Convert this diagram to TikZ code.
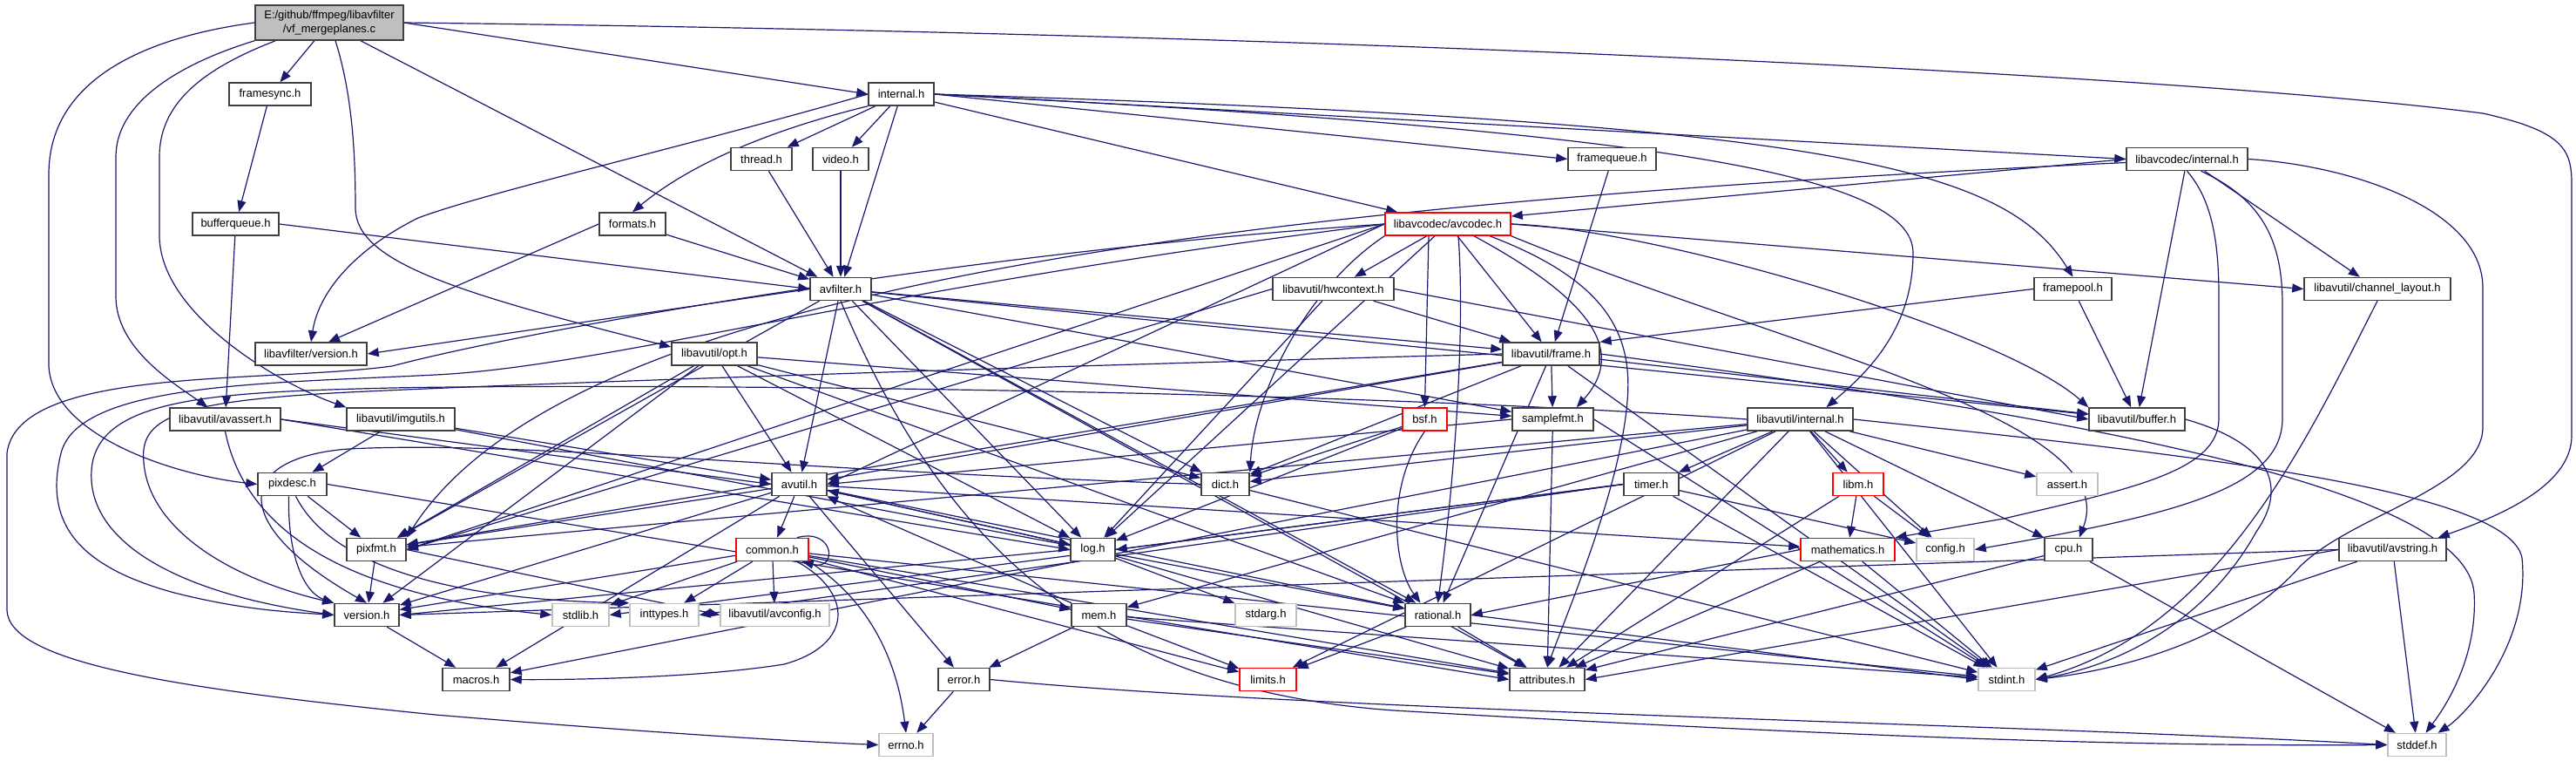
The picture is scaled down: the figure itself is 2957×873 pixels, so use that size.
\documentclass[tikz,border=0pt]{standalone}
\usepackage{fontspec}
\setmainfont{Liberation Sans}
\usetikzlibrary{arrows.meta,backgrounds}
\definecolor{edgec}{HTML}{191970}
\definecolor{rootfill}{HTML}{BFBFBF}
\definecolor{bdr}{HTML}{404040}
\definecolor{sysb}{HTML}{BFBFBF}
\definecolor{trunc}{HTML}{FF0000}
\tikzset{
 hbox/.style={draw=bdr, line width=0.75pt, fill=white, inner sep=0pt, minimum height=13pt, font=\fontsize{6.5}{7.8}\selectfont, text=black},
 redbox/.style={hbox, draw=trunc},
 sysbox/.style={hbox, draw=sysb},
 e/.style={draw=edgec, line width=0.6pt, -{Triangle[length=6.5pt,width=5pt]}},
}
\begin{document}
\begin{tikzpicture}[x=0.5pt,y=-0.5pt]
\useasboundingbox (0,0) rectangle (2957,873);
% nodes
\node[hbox, fill=rootfill, minimum width=85pt, minimum height=20pt, align=center] (root) at (378,26) {E:/github/ffmpeg/libavfilter\\/vf\_mergeplanes.c};
\node[hbox, minimum width=47pt] (framesync) at (310,108) {framesync.h};
\node[hbox, minimum width=49.5pt] (bufferqueue) at (270.5,257) {bufferqueue.h};
\node[hbox, minimum width=64pt] (lavfversion) at (357,406) {libavfilter/version.h};
\node[hbox, minimum width=37.5pt] (internal) at (1034.5,108) {internal.h};
\node[hbox, minimum width=35pt] (thread) at (874,182.5) {thread.h};
\node[hbox, minimum width=32pt] (video) at (965,182.5) {video.h};
\node[hbox, minimum width=38pt] (formats) at (726,257) {formats.h};
\node[hbox, minimum width=35pt] (avfilter) at (965,331.5) {avfilter.h};
\node[hbox, minimum width=49pt] (opt) at (820,406) {libavutil/opt.h};
\node[hbox, minimum width=50.5pt] (framequeue) at (1850.5,182.5) {framequeue.h};
\node[redbox, minimum width=72pt] (avcodec) at (1662,257) {libavcodec/avcodec.h};
\node[hbox, minimum width=69.5pt] (hwcontext) at (1530.5,331.5) {libavutil/hwcontext.h};
\node[hbox, minimum width=55.5pt] (frame) at (1780.5,406) {libavutil/frame.h};
\node[hbox, minimum width=69.5pt] (lavcinternal) at (2510.5,182.5) {libavcodec/internal.h};
\node[hbox, minimum width=44.5pt] (framepool) at (2379.5,331.5) {framepool.h};
\node[hbox, minimum width=84pt] (chlayout) at (2729,331.5) {libavutil/channel\_layout.h};
\node[hbox, minimum width=63.5pt] (avassert) at (258.5,481) {libavutil/avassert.h};
\node[hbox, minimum width=62pt] (imgutils) at (460,481) {libavutil/imgutils.h};
\node[hbox, minimum width=39.5pt] (pixdesc) at (335.5,555.5) {pixdesc.h};
\node[hbox, minimum width=34pt] (pixfmt) at (432,630.5) {pixfmt.h};
\node[hbox, minimum width=37pt] (version) at (421,705.5) {version.h};
\node[hbox, minimum width=31.5pt] (avutil) at (917.5,555.5) {avutil.h};
\node[redbox, minimum width=41.5pt] (common) at (886.5,630.5) {common.h};
\node[sysbox, minimum width=32.5pt] (stdlib) at (666.5,705.5) {stdlib.h};
\node[sysbox, minimum width=39.5pt] (inttypes) at (762.5,705.5) {inttypes.h};
\node[sysbox, minimum width=62.5pt] (avconfig) at (889.5,705.5) {libavutil/avconfig.h};
\node[hbox, minimum width=38.5pt] (macros) at (546.5,779.5) {macros.h};
\node[hbox, minimum width=27.5pt] (dict) at (1406.5,555.5) {dict.h};
\node[hbox, minimum width=25.5pt] (log) at (1254.5,630.5) {log.h};
\node[hbox, minimum width=31.5pt] (mem) at (1261.5,705.5) {mem.h};
\node[sysbox, minimum width=35pt] (stdarg) at (1453,705.5) {stdarg.h};
\node[hbox, minimum width=29.5pt] (error) at (1106.5,779.5) {error.h};
\node[sysbox, minimum width=31pt] (errno) at (1040,854.5) {errno.h};
\node[redbox, minimum width=32.5pt] (limits) at (1455.5,779.5) {limits.h};
\node[redbox, minimum width=25.5pt] (bsf) at (1635.5,481) {bsf.h};
\node[hbox, minimum width=46.5pt] (samplefmt) at (1782.5,481) {samplefmt.h};
\node[hbox, minimum width=31.5pt] (timer) at (1895.5,555.5) {timer.h};
\node[hbox, minimum width=37.5pt] (rational) at (1650.5,705.5) {rational.h};
\node[hbox, minimum width=43pt] (attributes) at (1776,779.5) {attributes.h};
\node[hbox, minimum width=60.5pt] (lavuinternal) at (2066.5,481) {libavutil/internal.h};
\node[hbox, minimum width=55pt] (buffer) at (2453,481) {libavutil/buffer.h};
\node[redbox, minimum width=29pt] (libm) at (2133,555.5) {libm.h};
\node[sysbox, minimum width=35pt] (assert) at (2373,555.5) {assert.h};
\node[redbox, minimum width=54pt] (mathematics) at (2121,630.5) {mathematics.h};
\node[sysbox, minimum width=33pt] (config) at (2233,630.5) {config.h};
\node[hbox, minimum width=27.5pt] (cpu) at (2374.5,630.5) {cpu.h};
\node[sysbox, minimum width=32.5pt] (stdint) at (2303.5,779.5) {stdint.h};
\node[hbox, minimum width=61.5pt] (avstring) at (2746.5,630.5) {libavutil/avstring.h};
\node[sysbox, minimum width=33.5pt] (stddef) at (2774.5,854.5) {stddef.h};

\begin{pgfonlayer}{background}
\fill[white] (0,0) rectangle (2957,873);
% root
\draw[e] (root) -- (framesync);
\draw[e] ([xshift=18pt]root.south) -- (avfilter);
\draw[e] (root.east) -- (internal.west);
\draw[e] (root.west) .. controls (150,45) and (56,100) .. (56,200) -- (56,420) .. controls (60,500) and (200,545) .. (pixdesc.west);
\draw[e] (root.south west) .. controls (200,75) and (133,120) .. (133,180) -- (133,340) .. controls (133,400) and (200,440) .. ([xshift=-10pt]avassert.north);
\draw[e] ([xshift=12pt]root.south west) .. controls (230,80) and (183,120) .. (183,180) -- (183,270) .. controls (183,360) and (320,440) .. (imgutils.north west);
\draw[e] ([xshift=3.5pt]root.south) .. controls (405,110) and (408,180) .. (408,240) .. controls (410,300) and (520,335) .. ([yshift=4pt]opt.west);
\draw[e] (root.east) .. controls (1500,38) and (2500,85) .. (2850,130) .. controls (2940,150) and (2952,170) .. (2952,210) -- (2952,500) .. controls (2952,560) and (2860,595) .. ([xshift=-5pt]avstring.north east);
% framesync, bufferqueue
\draw[e] (framesync) -- (bufferqueue);
\draw[e] (bufferqueue.east) -- (avfilter.west);
\draw[e] (bufferqueue) -- (avassert);
% internal
\draw[e] (internal) -- (thread);
\draw[e] (internal) -- (video);
\draw[e] (internal) -- (avfilter);
\draw[e] (internal.south west) .. controls (880,150) and (790,190) .. (formats.north);
\draw[e] (internal.west) .. controls (800,165) and (560,220) .. (480,250) .. controls (400,290) and (365,340) .. (lavfversion.north);
\draw[e] (internal) -- (avcodec);
\draw[e] (internal.east) -- (framequeue.west);
\draw[e] (internal.east) -- (lavcinternal.west);
\draw[e] (internal.east) .. controls (2100,140) and (2300,190) .. (framepool.north);
\draw[e] (internal.east) .. controls (1900,150) and (2196,200) .. (2196,290) .. controls (2196,380) and (2140,430) .. ([xshift=15pt]lavuinternal.north);
\draw[e] (thread) -- (avfilter);
\draw[e] (video) -- (avfilter);
\draw[e] (formats) -- (avfilter);
\draw[e] (formats.west) -- ([xshift=10pt]lavfversion.north);
\draw[e] (framequeue) -- (frame);
\draw[e] (framepool.west) -- (frame.north east);
\draw[e] (framepool) -- (buffer);
% lavcodec internal
\draw[e] (lavcinternal) -- (buffer);
\draw[e] (lavcinternal) -- (chlayout);
\draw[e] (lavcinternal.west) -- ([yshift=4.5pt]avcodec.east);
\draw[e] ([yshift=-2pt]lavcinternal.west) .. controls (1400,235) and (650,330) .. (pixfmt.north east);
\draw[e] (lavcinternal.south) .. controls (2540,230) and (2547,280) .. (2547,340) -- (2547,480) .. controls (2547,540) and (2450,560) .. (2300,595) -- (mathematics.north east);
\draw[e] ([xshift=8pt]lavcinternal.south) .. controls (2600,230) and (2620,280) .. (2620,350) -- (2620,480) .. controls (2620,560) and (2500,590) .. (config.east);
\draw[e] (lavcinternal.east) .. controls (2700,190) and (2850,240) .. (2850,330) -- (2850,490) .. controls (2850,560) and (2700,590) .. (2640,650) .. controls (2560,740) and (2420,770) .. (stdint.east);
\draw[e] (chlayout.south) .. controls (2650,500) and (2550,720) .. (stdint.east);
\draw[e] (buffer.east) .. controls (2610,510) and (2625,560) .. (2590,610) .. controls (2540,700) and (2450,760) .. (stdint.east);
% avcodec
\draw[e] (avcodec.west) .. controls (1100,290) and (600,380) .. (450,420) .. controls (300,440) and (20,420) .. (8,520) -- (8,700) .. controls (10,760) and (200,790) .. (500,820) .. controls (800,845) and (950,852) .. (errno.west);
\draw[e] (avcodec) -- (hwcontext);
\draw[e] ([xshift=-11pt]avcodec.south) -- (bsf.north);
\draw[e] ([xshift=6pt]avcodec.south) .. controls (1680,350) and (1676,500) .. (rational.north);
\draw[e] (avcodec) -- (frame);
\draw[e] ([xshift=15pt]avcodec.south) .. controls (1820,340) and (1870,400) .. ([xshift=-10pt]samplefmt.north east);
\draw[e] ([xshift=24pt]avcodec.south) .. controls (1840,320) and (1875,380) .. (1868,460) .. controls (1860,560) and (1800,700) .. (attributes.north);
\draw[e] (avcodec.west) -- (avutil.east);
\draw[e] (avcodec.south west) .. controls (1500,330) and (1440,450) .. (dict.north east);
\draw[e] (avcodec) -- (log);
\draw[e] (avcodec.west) -- (pixfmt.east);
\draw[e] (avcodec.west) .. controls (1000,330) and (700,420) .. (500,430) .. controls (300,440) and (90,440) .. (70,520) .. controls (50,600) and (90,650) .. (200,680) .. controls (280,700) and (330,702) .. (version.west);
\draw[e] (avcodec.east) -- (chlayout.west);
\draw[e] (avcodec.east) .. controls (1900,262) and (2300,380) .. (buffer.north west);
\draw[e] (avcodec.south east) .. controls (2050,400) and (2440,480) .. ([xshift=-8pt]cpu.north east);
% hwcontext
\draw[e] (hwcontext.east) -- (buffer.west);
\draw[e] (hwcontext) -- (frame);
\draw[e] (hwcontext) -- (log);
\draw[e] (hwcontext.west) -- (pixfmt.east);
% avfilter
\draw[e] (avfilter.west) -- (lavfversion.east);
\draw[e] (avfilter) -- (avutil);
\draw[e] (avfilter) -- (pixfmt);
\draw[e] (avfilter) -- (log);
\draw[e] (avfilter) -- (dict);
\draw[e] (avfilter) -- (frame);
\draw[e] (avfilter) -- (buffer);
\draw[e] (avfilter) -- (samplefmt);
\draw[e] (avfilter) -- (rational);
\draw[e] (avfilter) -- (attributes);
\draw[e] (avfilter.south) .. controls (1080,620) and (1250,790) .. (1600,815) .. controls (2200,850) and (2500,856) .. (stddef.west);
% opt
\draw[e] (opt) -- (rational);
\draw[e] (opt) -- (avutil);
\draw[e] (opt) -- (dict);
\draw[e] (opt) -- (log);
\draw[e] (opt) -- (pixfmt);
\draw[e] (opt) -- (samplefmt);
\draw[e] (opt) -- (version);
% frame
\draw[e] (frame) -- (avutil);
\draw[e] (frame) -- (buffer);
\draw[e] (frame) -- (dict);
\draw[e] (frame) -- (rational);
\draw[e] (frame) -- (samplefmt);
\draw[e] (frame) -- (pixfmt);
\draw[e] (frame) -- (stdint);
\draw[e] (frame.west) .. controls (1200,420) and (600,440) .. (400,450) .. controls (200,460) and (160,480) .. (165,530) .. controls (170,600) and (250,660) .. (version.north west);
\draw[e] (frame.east) .. controls (2400,480) and (2830,560) .. (2840,680) .. controls (2845,760) and (2800,820) .. ([xshift=5pt]stddef.north);
% avassert, imgutils
\draw[e] (avassert.south) .. controls (280,600) and (380,680) .. (stdlib.west);
\draw[e] (avassert.east) -- (avutil.west);
\draw[e] (avassert.east) -- (log.west);
\draw[e] (imgutils) -- (pixdesc);
\draw[e] (imgutils) -- (avutil);
\draw[e] (imgutils) -- (rational);
% pixdesc, pixfmt, version
\draw[e] ([xshift=2pt]pixdesc.south) .. controls (380,650) and (520,688) .. (inttypes.north west);
\draw[e] ([xshift=-2pt]pixdesc.south) .. controls (330,640) and (350,680) .. (version.north west);
\draw[e] (pixdesc) -- (pixfmt);
\draw[e] (pixdesc.east) -- (attributes.west);
\draw[e] (pixfmt) -- (version);
\draw[e] (pixfmt.east) -- (avconfig.west);
\draw[e] (version) -- (macros);
% avutil
\draw[e] (avutil) -- (common);
\draw[e] (avutil) -- (error);
\draw[e] (avutil) -- (macros);
\draw[e] (avutil) -- (mathematics);
\draw[e] (avutil) -- (rational);
\draw[e] (avutil) -- (version);
\draw[e] (avutil) -- (log);
\draw[e] (avutil) -- (pixfmt);
% common
\draw[e] (common.south east) .. controls (1000,690) and (1030,760) .. (errno.north);
\draw[e] (common) -- (inttypes);
\draw[e] (common) -- (limits);
\draw[e] (common) -- (stdint);
\draw[e] (common) -- (stdlib);
\draw[e] (common) -- (attributes);
\draw[e] ([xshift=-7pt]common.south east) .. controls (980,680) and (980,740) .. (900,762) .. controls (800,778) and (650,780) .. (macros.east);
\draw[e] (common) -- (version);
\draw[e] (common) -- (avconfig);
\draw[e] (common) -- (mem);
\draw[e] ([xshift=-7pt]common.north east) .. controls (958,605) and (962,655) .. ([xshift=-4pt]common.south east);
% mem, error
\draw[e] (mem) -- (error);
\draw[e] (mem) -- (attributes);
\draw[e] (mem) -- (avutil);
\draw[e] (mem) -- (limits);
\draw[e] (mem) -- (stdint);
\draw[e] (error) -- (errno);
\draw[e] (error.east) .. controls (1500,815) and (2300,830) .. (stddef.west);
% dict, log, bsf
\draw[e] (dict) -- (stdint);
\draw[e] (dict.west) .. controls (900,540) and (600,505) .. (400,515) .. controls (270,525) and (260,600) .. (version.north);
\draw[e] (log) -- (stdarg);
\draw[e] (log) -- (avutil);
\draw[e] (log) -- (attributes);
\draw[e] (log.west) -- (version.east);
\draw[e] (bsf) -- (dict);
\draw[e] (bsf) -- (log);
\draw[e] (bsf.south) .. controls (1590,560) and (1600,650) .. ([xshift=-10pt]rational.north);
% samplefmt, timer, rational
\draw[e] (samplefmt.west) -- (avutil.east);
\draw[e] (samplefmt) -- (attributes);
\draw[e] (samplefmt.east) -- (stdint);
\draw[e] (timer) -- (config);
\draw[e] (timer.west) -- (stdlib.east);
\draw[e] (timer.west) -- (inttypes.east);
\draw[e] (timer) -- (stdint);
\draw[e] (timer.west) -- (log.east);
\draw[e] (rational) -- (attributes);
\draw[e] (rational) -- (limits);
\draw[e] (rational.east) -- (stdint.west);
% libavutil internal
\draw[e] (lavuinternal) -- (limits);
\draw[e] (lavuinternal) -- (stdint);
\draw[e] (lavuinternal) -- (assert);
\draw[e] (lavuinternal) -- (config);
\draw[e] (lavuinternal) -- (attributes);
\draw[e] (lavuinternal) -- (timer);
\draw[e] (lavuinternal) -- (cpu);
\draw[e] (lavuinternal) -- (dict);
\draw[e] (lavuinternal) -- (macros);
\draw[e] (lavuinternal) -- (mem);
\draw[e] (lavuinternal) -- (pixfmt);
\draw[e] (lavuinternal) -- (libm);
\draw[e] (lavuinternal.west) .. controls (1500,445) and (700,440) .. (450,445) .. controls (250,450) and (110,455) .. (105,540) .. controls (100,620) and (200,680) .. (version.west);
\draw[e] (lavuinternal.east) .. controls (2500,520) and (2880,560) .. (2895,640) .. controls (2905,740) and (2830,820) .. ([xshift=12pt]stddef.north);
% libm, mathematics, cpu, avstring
\draw[e] (libm) -- (config);
\draw[e] (libm) -- (mathematics);
\draw[e] (libm) -- (attributes);
\draw[e] (mathematics) -- (stdint);
\draw[e] (mathematics) -- (attributes);
\draw[e] (mathematics.west) -- (rational.east);
\draw[e] (cpu) -- (attributes);
\draw[e] (cpu) -- (stddef);
\draw[e] (avstring) -- (stddef);
\draw[e] (avstring) -- (stdint);
\draw[e] (avstring.west) -- (attributes.east);
\draw[e] (avstring.west) -- (version.east);
\end{pgfonlayer}
\end{tikzpicture}
\end{document}
